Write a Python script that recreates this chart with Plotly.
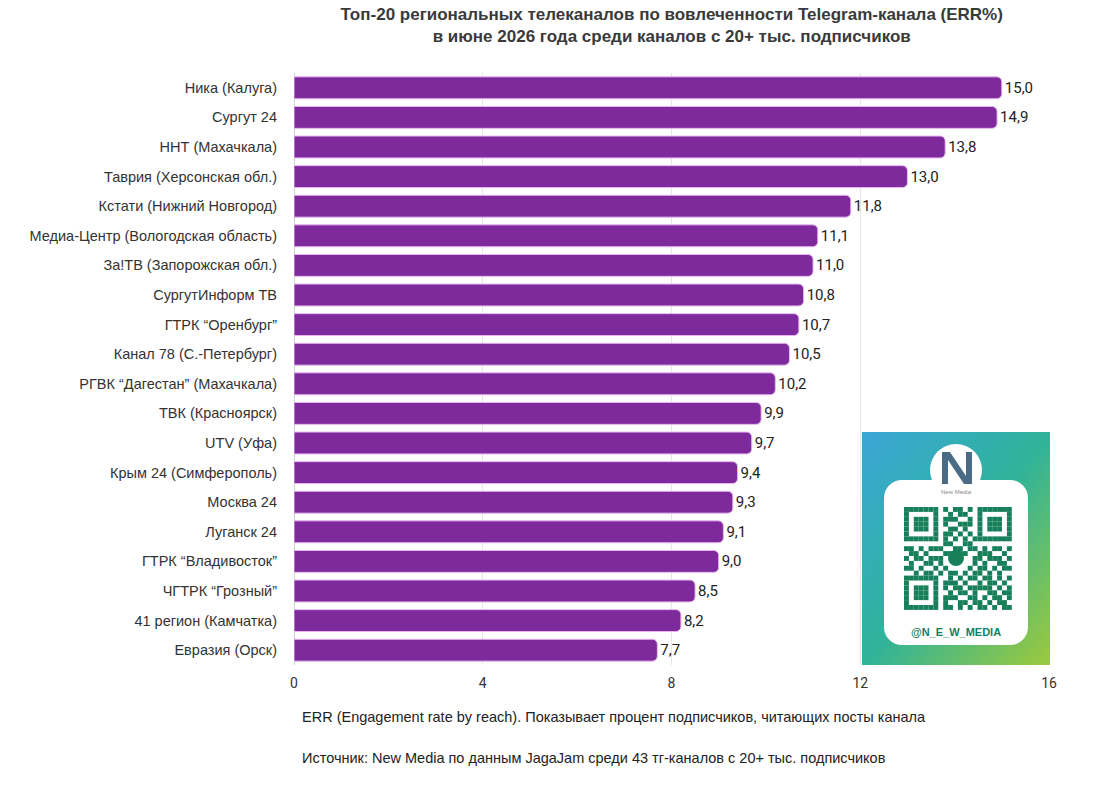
import plotly.graph_objects as go
import base64

channels = [
    "Ника (Калуга)", "Сургут 24", "ННТ (Махачкала)", "Таврия (Херсонская обл.)",
    "Кстати (Нижний Новгород)", "Медиа-Центр (Вологодская область)",
    "За!ТВ (Запорожская обл.)", "СургутИнформ ТВ", "ГТРК “Оренбург”",
    "Канал 78 (С.-Петербург)", "РГВК “Дагестан” (Махачкала)", "ТВК (Красноярск)",
    "UTV (Уфа)", "Крым 24 (Симферополь)", "Москва 24", "Луганск 24",
    "ГТРК “Владивосток”", "ЧГТРК “Грозный”", "41 регион (Камчатка)", "Евразия (Орск)",
]
err_values = [15.0, 14.9, 13.8, 13.0, 11.8, 11.1, 11.0, 10.8, 10.7, 10.5,
              10.2, 9.9, 9.7, 9.4, 9.3, 9.1, 9.0, 8.5, 8.2, 7.7]
tick_values = [0, 4, 8, 12, 16]

title = ("Топ-20 региональных телеканалов по вовлеченности Telegram-канала (ERR%)<br>"
         "в июне 2026 года среди каналов с 20+ тыс. подписчиков")
note1 = "ERR (Engagement rate by reach). Показывает процент подписчиков, читающих посты канала"
note2 = "Источник: New Media по данным JagaJam среди 43 тг-каналов с 20+ тыс. подписчиков"

fig = go.Figure(go.Bar(
    x=err_values, y=channels, orientation="h",
    marker=dict(color="#7e2a9c", line=dict(color="#e7b8f0", width=1)),
    width=0.74,
    texttemplate="%{x:.1f}",
    textposition="outside",
    textfont=dict(family="Roboto", size=15, color="#222"),
    cliponaxis=False,
))

# QR badge decoration (SVG)
mods = ""
pattern = [
    "1111111010110101111111",
    "1000001001011001000001",
    "1011101011100101011101",
    "1011101010011101011101",
    "1011101001101001011101",
    "1000001011010101000001",
    "1111111010101011111111",
    "0000000011001100000000",
    "1101011100110110101101",
    "0110100011011001110010",
    "1011011100000011011101",
    "0100110100000010100110",
    "1101001010000101101011",
    "0010110101101011010100",
    "1111111001010110110101",
    "1000001011101001011010",
    "1011101010110111110101",
    "1011101001011010011011",
    "1011101011100110101101",
    "1000001010011011010110",
    "1111111011010101101011",
]
for r, row in enumerate(pattern):
    for c, ch in enumerate(row):
        if ch == "1":
            mods += f'<rect x="{42 + c * 4.9:.1f}" y="{75 + r * 4.9:.1f}" width="4.9" height="4.9" fill="#17805a"/>'
svg = (
    '<svg xmlns="http://www.w3.org/2000/svg" width="188" height="233" viewBox="0 0 188 233">'
    '<defs><linearGradient id="g" x1="0" y1="0" x2="1" y2="1">'
    '<stop offset="0" stop-color="#3aa6d8"/><stop offset="0.5" stop-color="#2fb39a"/>'
    '<stop offset="1" stop-color="#9cc93c"/></linearGradient></defs>'
    '<rect width="188" height="233" fill="url(#g)"/>'
    '<rect x="22" y="48" width="144" height="165" rx="18" fill="#ffffff"/>'
    '<circle cx="94" cy="38" r="26" fill="#ffffff"/>'
    '<path d="M80 20 L88 20 L104 44 L104 20 L110 20 L110 52 L102 52 L86 28 L86 52 L80 52 Z" fill="#4a6b86"/>'
    '<text x="94" y="62" font-size="6" text-anchor="middle" fill="#888" font-family="Arial">New Media</text>'
    + mods +
    '<circle cx="94" cy="126" r="8" fill="#17805a"/>'
    '<text x="94" y="204" font-size="11" font-weight="bold" text-anchor="middle" fill="#17805a" font-family="Arial">@N_E_W_MEDIA</text>'
    '</svg>'
)
src = "data:image/svg+xml;base64," + base64.b64encode(svg.encode()).decode()

fig.update_layout(
    width=1103, height=800,
    margin=dict(l=294, r=54, t=73, b=135),
    paper_bgcolor="white", plot_bgcolor="white",
    separators=", ",
    barcornerradius=5,
    showlegend=False,
    title=dict(text=title, x=0.609, xanchor="center", y=0.975, yanchor="top",
               font=dict(family="Liberation Sans", size=17, color="#3a3a3a", weight="bold")),
    xaxis=dict(range=[0, 16], tickvals=tick_values, showgrid=True, gridcolor="#e6e6e6",
               gridwidth=1, zeroline=True, zerolinecolor="#cfcfcf", zerolinewidth=1,
               tickfont=dict(family="Roboto", size=14, color="#333"), ticks="",
               ticklabelstandoff=8, showline=False),
    yaxis=dict(autorange="reversed", tickfont=dict(family="Liberation Sans", size=14.5, color="#333"),
               ticks="", ticklabelstandoff=16, showgrid=False),
    images=[dict(source=src, xref="paper", yref="paper", x=(862 - 294) / 755, y=(800 - 135 - 432) / 592,
                 sizex=188 / 755, sizey=233 / 592, xanchor="left", yanchor="top",
                 sizing="stretch", layer="above")],
    annotations=[
        dict(text=note1, xref="paper", yref="paper", x=(300 - 294) / 755, y=(665 - 717) / 592,
             xanchor="left", yanchor="middle", showarrow=False,
             font=dict(family="Liberation Sans", size=14.5, color="#222")),
        dict(text=note2, xref="paper", yref="paper", x=(300 - 294) / 755, y=(665 - 758) / 592,
             xanchor="left", yanchor="middle", showarrow=False,
             font=dict(family="Liberation Sans", size=14.5, color="#222")),
    ],
)

fig.write_html("out.html")
